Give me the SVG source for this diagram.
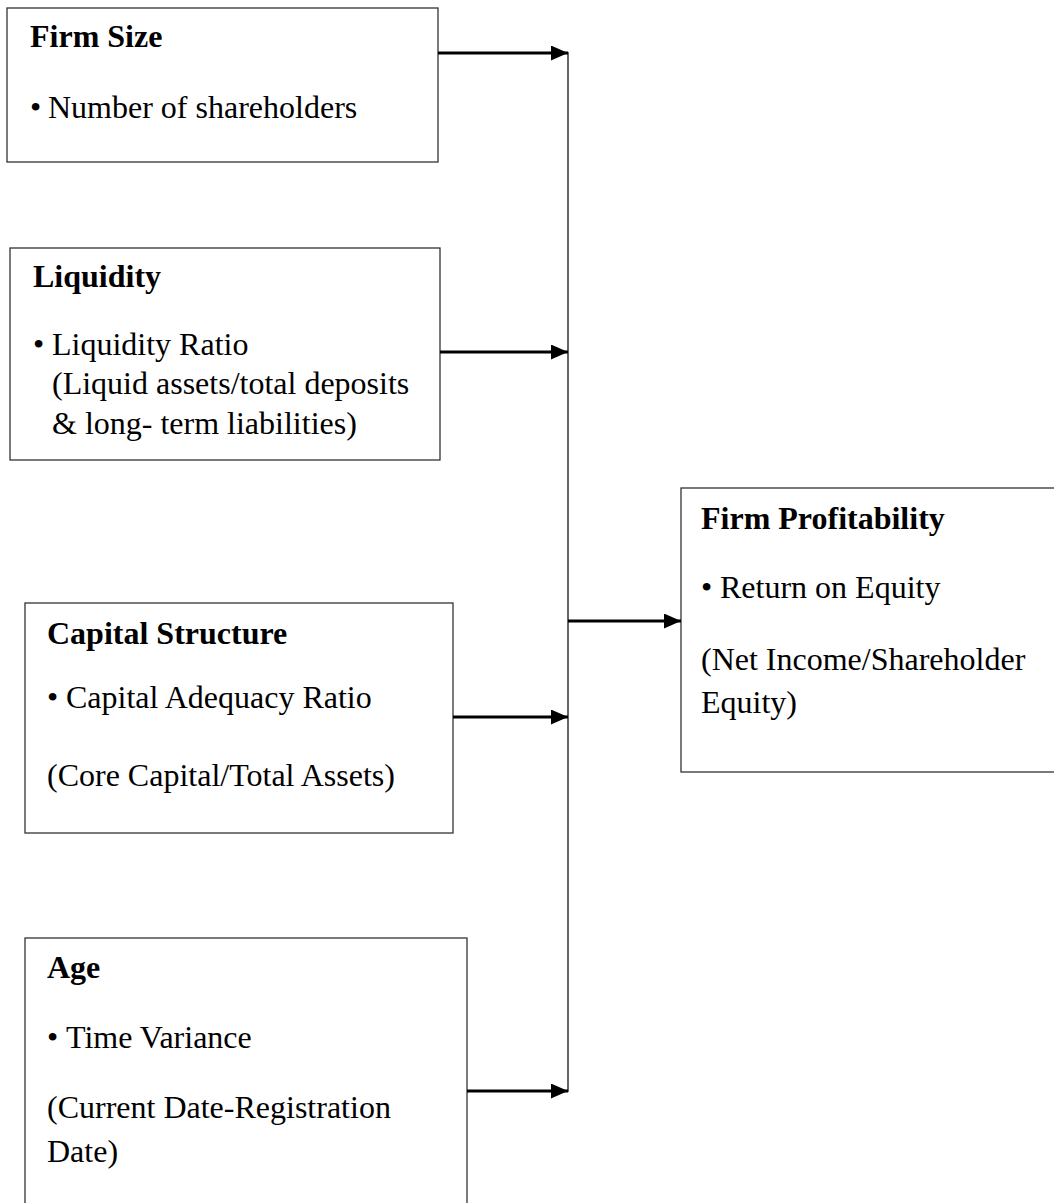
<svg xmlns="http://www.w3.org/2000/svg" width="1054" height="1203" viewBox="0 0 1054 1203">
<style>
.box{fill:#fff;stroke:#333;stroke-width:1.3}
.t{font-family:"Liberation Serif","Times New Roman",serif;font-size:32px;fill:#000}
.b{font-weight:bold}
.arr{stroke:#000;stroke-width:3;fill:none}
.vl{stroke:#333;stroke-width:1.5;fill:none}
</style>
<defs>
<marker id="ah" markerWidth="17" markerHeight="15" refX="17" refY="7.5" orient="auto" markerUnits="userSpaceOnUse">
<path d="M0,0 L17,7.5 L0,15 Z" fill="#000"/>
</marker>
</defs>
<rect width="1054" height="1203" fill="#fff"/>
<g id="firm-size">
<rect class="box" x="7" y="8" width="431" height="154"/>
<text class="t b" x="30" y="47">Firm Size</text>
<text class="t" x="30" y="118">•</text>
<text class="t" x="48" y="118">Number of shareholders</text>
</g>
<g id="liquidity">
<rect class="box" x="10" y="248" width="430" height="212"/>
<text class="t b" x="33" y="287">Liquidity</text>
<text class="t" x="33" y="355">•</text>
<text class="t" x="52" y="355">Liquidity Ratio</text>
<text class="t" x="52" y="394">(Liquid assets/total deposits</text>
<text class="t" x="52" y="434">&amp; long- term liabilities)</text>
</g>
<g id="capital-structure">
<rect class="box" x="25" y="603" width="428" height="230"/>
<text class="t b" x="47" y="644">Capital Structure</text>
<text class="t" x="47" y="708">•</text>
<text class="t" x="66" y="708">Capital Adequacy Ratio</text>
<text class="t" x="47" y="786">(Core Capital/Total Assets)</text>
</g>
<g id="age">
<rect class="box" x="25" y="938" width="442" height="280"/>
<text class="t b" x="47" y="978">Age</text>
<text class="t" x="47" y="1048">•</text>
<text class="t" x="66" y="1048">Time Variance</text>
<text class="t" x="47" y="1118">(Current Date-Registration</text>
<text class="t" x="47" y="1162">Date)</text>
</g>
<g id="firm-profitability">
<rect class="box" x="681" y="488" width="390" height="284"/>
<text class="t b" x="701" y="529">Firm Profitability</text>
<text class="t" x="701" y="598">•</text>
<text class="t" x="720" y="598">Return on Equity</text>
<text class="t" x="701" y="670">(Net Income/Shareholder</text>
<text class="t" x="701" y="713">Equity)</text>
</g>
<g id="connectors">
<line class="vl" x1="568" y1="52" x2="568" y2="1092"/>
<line class="arr" x1="438" y1="53" x2="568" y2="53" marker-end="url(#ah)"/>
<line class="arr" x1="440" y1="352" x2="568" y2="352" marker-end="url(#ah)"/>
<line class="arr" x1="453" y1="717" x2="568" y2="717" marker-end="url(#ah)"/>
<line class="arr" x1="467" y1="1091" x2="568" y2="1091" marker-end="url(#ah)"/>
<line class="arr" x1="568" y1="621" x2="681" y2="621" marker-end="url(#ah)"/>
</g>
</svg>
